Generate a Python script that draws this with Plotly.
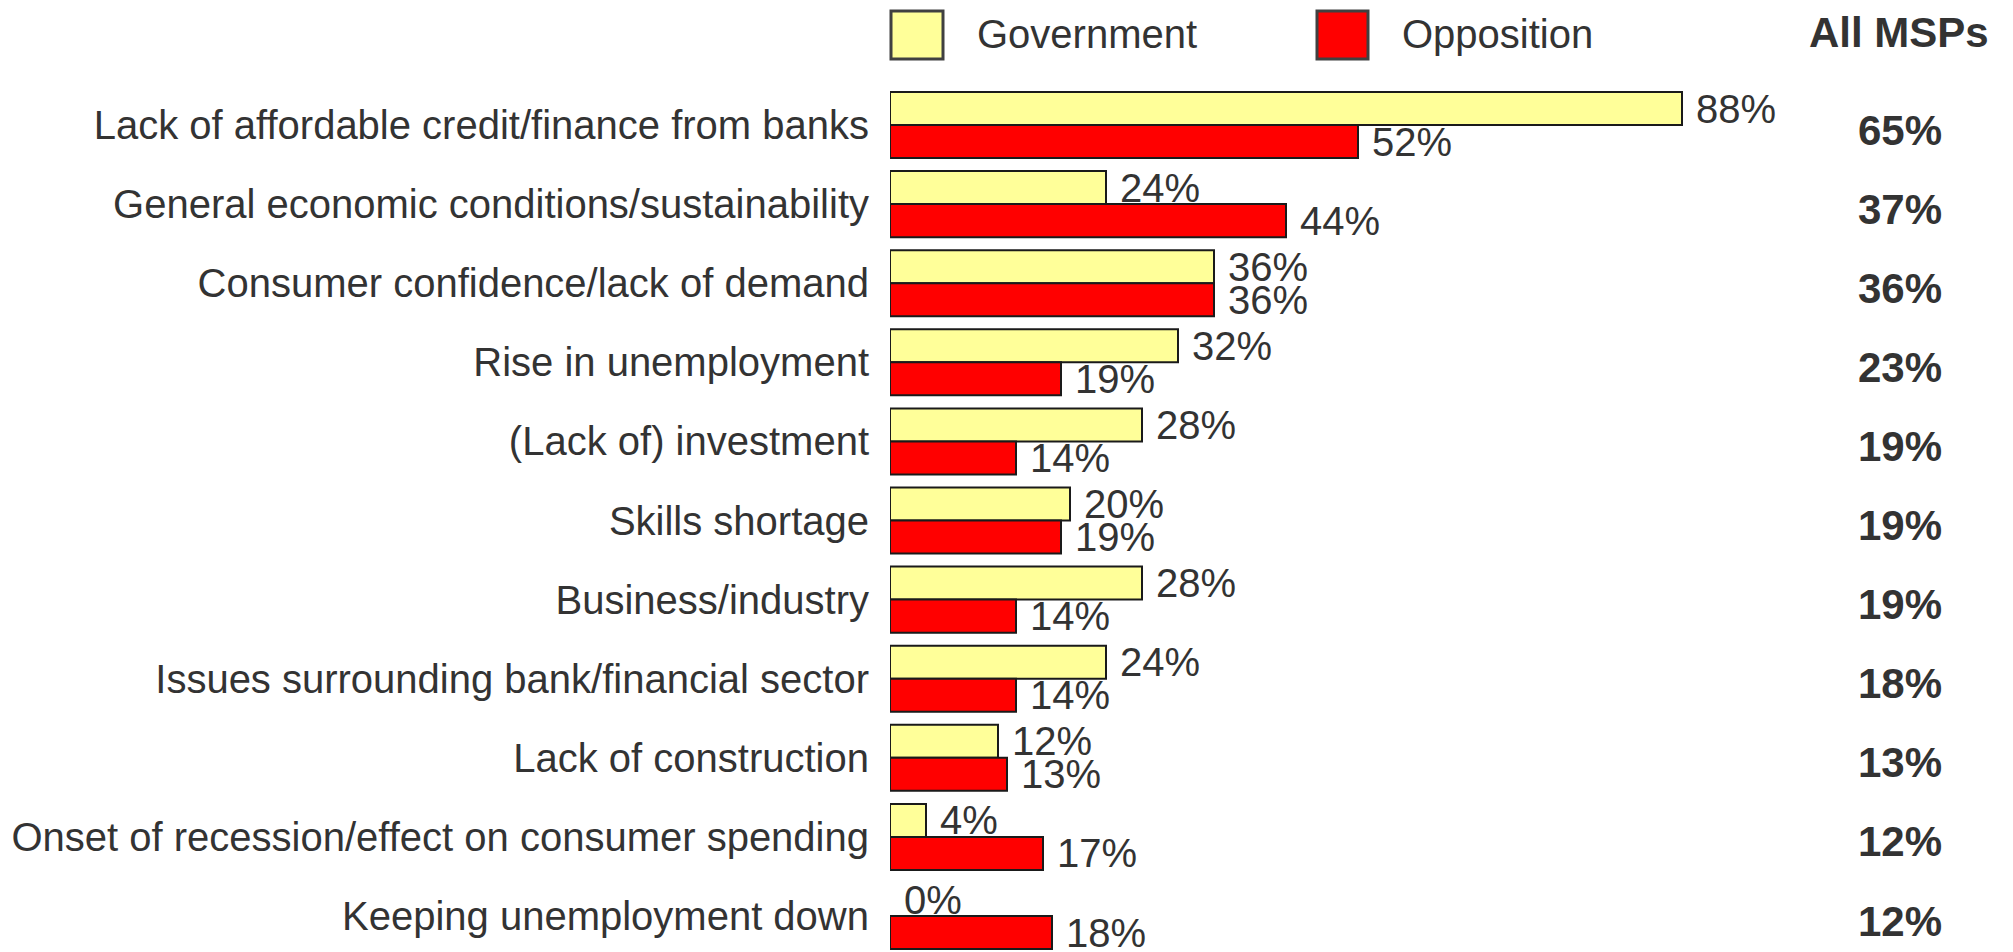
import plotly.graph_objects as go

categories = [
    "Lack of affordable credit/finance from banks",
    "General economic conditions/sustainability",
    "Consumer confidence/lack of demand",
    "Rise in unemployment",
    "(Lack of) investment",
    "Skills shortage",
    "Business/industry",
    "Issues surrounding bank/financial sector",
    "Lack of construction",
    "Onset of recession/effect on consumer spending",
    "Keeping unemployment down",
]
government = [88, 24, 36, 32, 28, 20, 28, 24, 12, 4, 0]
opposition = [52, 44, 36, 19, 14, 19, 14, 14, 13, 17, 18]
all_msps = [65, 37, 36, 23, 19, 19, 19, 18, 13, 12, 12]

FONT = "Arial, Liberation Sans, sans-serif"
TXT = "#333333"
OFF = 8  # page body margin
W, H = 2013 - OFF, 952 - OFF
ML, MR, MT, MB = 890 - OFF, 223, 85 - OFF, 0
PW = W - ML - MR
PH = H - MT - MB


def px_x(px):
    return (px - OFF - ML) / PW


def px_y(py):
    return 1 - (py - OFF - MT) / PH


def outline_widths(values):
    # zero-length bars show no outline
    return [0 if v == 0 else 2 for v in values]


fig = go.Figure()
fig.add_trace(go.Bar(
    y=categories, x=government, orientation="h", name="Government",
    marker=dict(color="#FFFF99",
                line=dict(color="#1a1a1a", width=outline_widths(government))),
    texttemplate="\u00a0%{x}%", textposition="outside", constraintext="none",
    cliponaxis=False, textfont=dict(size=40, color=TXT, family=FONT),
))
fig.add_trace(go.Bar(
    y=categories, x=opposition, orientation="h", name="Opposition",
    marker=dict(color="#FF0000",
                line=dict(color="#1a1a1a", width=outline_widths(opposition))),
    texttemplate="\u00a0%{x}%", textposition="outside", constraintext="none",
    cliponaxis=False, textfont=dict(size=40, color=TXT, family=FONT),
))

annotations = []
for cat, v in zip(categories, all_msps):
    annotations.append(dict(
        xref="paper", yref="y", x=px_x(1900), y=cat, yshift=-5,
        text=f"<b>{v}%</b>", showarrow=False, xanchor="center", yanchor="middle",
        font=dict(size=42, color=TXT, family=FONT),
    ))
annotations.append(dict(
    xref="paper", yref="paper", x=px_x(1899), y=px_y(32),
    text="<b>All MSPs</b>", showarrow=False, xanchor="center", yanchor="middle",
    font=dict(size=42, color=TXT, family=FONT),
))
annotations.append(dict(
    xref="paper", yref="paper", x=px_x(975), y=px_y(34),
    text="Government", showarrow=False, xanchor="left", yanchor="middle",
    font=dict(size=40, color=TXT, family=FONT),
))
annotations.append(dict(
    xref="paper", yref="paper", x=px_x(1400), y=px_y(34),
    text="Opposition", showarrow=False, xanchor="left", yanchor="middle",
    font=dict(size=40, color=TXT, family=FONT),
))

shapes = [
    dict(type="rect", xref="paper", yref="paper",
         x0=px_x(891), x1=px_x(943), y0=px_y(59), y1=px_y(11),
         fillcolor="#FFFF99", line=dict(color="#404040", width=3)),
    dict(type="rect", xref="paper", yref="paper",
         x0=px_x(1317), x1=px_x(1368), y0=px_y(59), y1=px_y(11),
         fillcolor="#FF0000", line=dict(color="#404040", width=3)),
]

fig.update_layout(
    width=W, height=H, autosize=False,
    margin=dict(l=ML, r=MR, t=MT, b=MB, pad=0),
    paper_bgcolor="white", plot_bgcolor="white",
    barmode="group", bargap=0.165, bargroupgap=0,
    showlegend=False,
    font=dict(family=FONT, color=TXT, size=40),
    xaxis=dict(range=[0, 100], visible=False, showgrid=False, zeroline=False),
    yaxis=dict(
        categoryorder="array", categoryarray=categories,
        range=[10.455, -0.506], showgrid=False, zeroline=False, showline=False,
        ticks="", ticklabelstandoff=20,
        tickfont=dict(size=40, color=TXT, family=FONT),
    ),
    annotations=annotations,
    shapes=shapes,
)

fig.write_html("out.html")
